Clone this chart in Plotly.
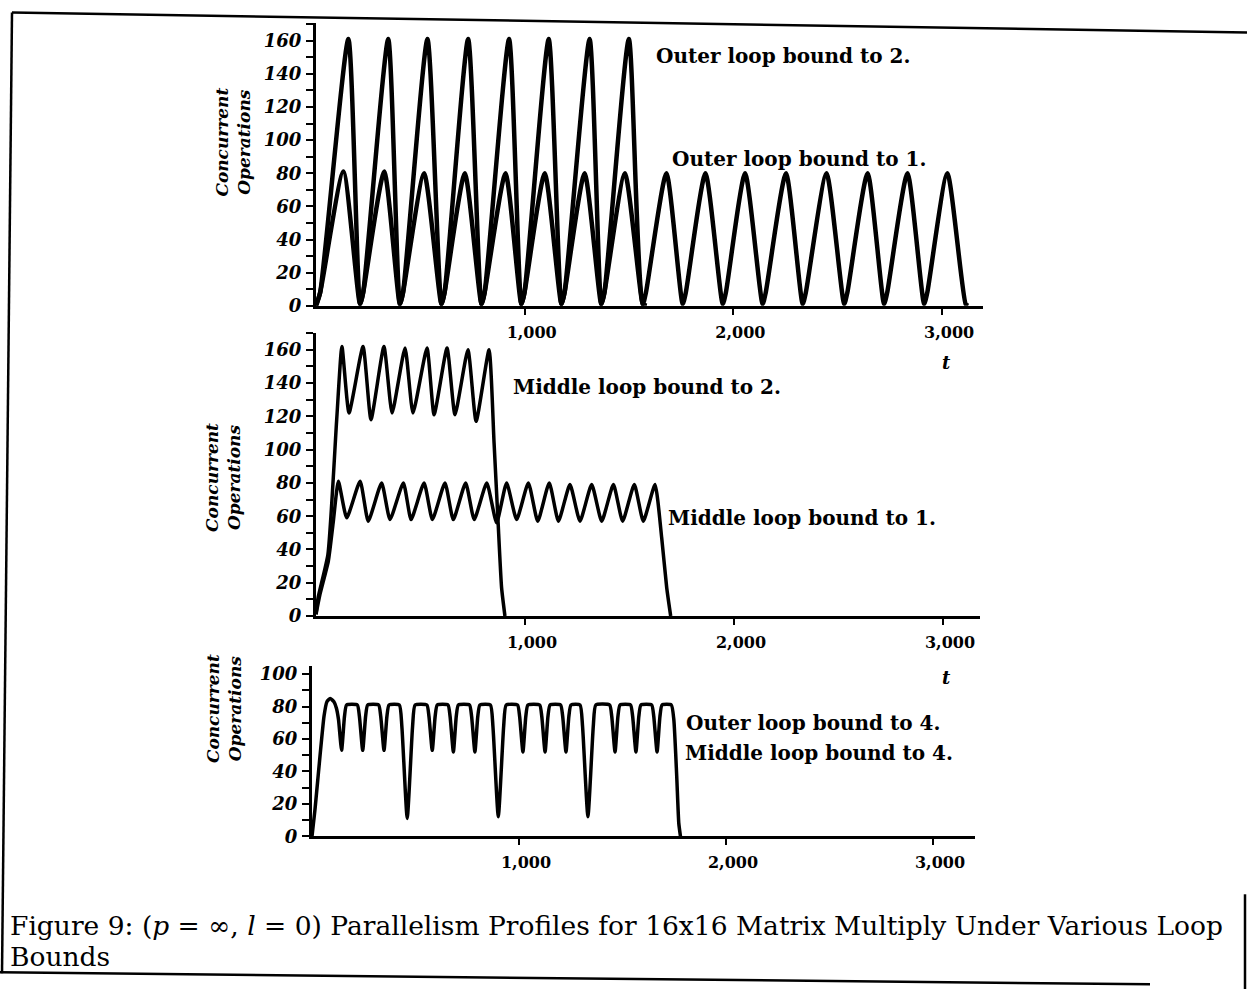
import plotly.graph_objects as go

W, H = 1247, 989

# ---------------- data ----------------
# Panel 1: Outer loop bound to 2 / bound to 1
t_outer2 = [0, 20, 155, 211, 226, 346, 402, 417, 534, 601, 616, 729, 793, 808, 925,
            984, 999, 1115, 1176, 1191, 1311, 1367, 1382, 1499, 1566, 1585]
y_outer2 = [0, 8, 161, 1, 8, 161, 1, 8, 161, 1, 8, 161, 1, 8, 161,
            1, 8, 161, 1, 8, 161, 1, 8, 161, 1, 0]

t_outer1 = [0, 20, 131, 211, 226, 327, 402, 417, 518, 601, 616, 713, 793, 808, 908,
            984, 999, 1096, 1176, 1191, 1287, 1367, 1382, 1480, 1566, 1581, 1679,
            1757, 1772, 1866, 1949, 1964, 2056, 2140, 2155, 2252, 2332, 2347, 2446,
            2531, 2546, 2643, 2722, 2737, 2834, 2914, 2929, 3025, 3113, 3125]
y_outer1 = [0, 8, 81, 1, 8, 81, 1, 8, 80, 1, 8, 80, 1, 8, 80,
            1, 8, 80, 1, 8, 80, 1, 8, 80, 1, 8, 80,
            1, 8, 80, 1, 8, 80, 1, 8, 80, 1, 8, 80,
            1, 8, 80, 1, 8, 80, 1, 8, 80, 1, 0]

# Panel 2: Middle loop bound to 2 / bound to 1
t_mid2 = [0, 10, 57, 99, 124, 158, 225, 263, 325, 364, 426, 464, 531, 565, 627, 665,
          727, 766, 828, 852, 871, 888, 904]
y_mid2 = [1, 11, 37, 118, 162, 122, 162, 118, 162, 122, 161, 122, 161, 121, 161, 121,
          160, 117, 160, 104, 57, 17, 0]

t_mid1 = [0, 19, 59, 83, 107, 147, 211, 250, 314, 354, 418, 455, 517, 557, 617, 657,
          716, 757, 817, 864, 912, 960, 1016, 1061, 1116, 1160, 1215, 1263, 1319,
          1367, 1423, 1467, 1523, 1566, 1622, 1654, 1678, 1697]
y_mid1 = [1, 13, 33, 57, 81, 59, 81, 57, 80, 58, 80, 58, 80, 58, 80, 58,
          80, 58, 80, 56, 80, 58, 80, 57, 80, 57, 79, 57, 79,
          57, 79, 57, 79, 57, 79, 47, 17, 0]

# Panel 3: Outer loop bound to 4, middle loop bound to 4
t_both4 = [0, 14, 58, 72, 88, 106, 118, 128, 143, 157, 167,
           219, 229, 245, 259, 269,
           322, 332, 348, 362, 372,
           422, 434, 460, 486, 498,
           555, 565, 581, 595, 605,
           657, 667, 683, 697, 707,
           761, 771, 787, 801, 811,
           862, 874, 900, 926, 938,
           993, 1003, 1019, 1033, 1043,
           1100, 1110, 1126, 1140, 1150,
           1201, 1211, 1227, 1241, 1251,
           1295, 1307, 1333, 1359, 1371,
           1438, 1448, 1464, 1478, 1488,
           1539, 1549, 1565, 1579, 1589,
           1641, 1651, 1667, 1681, 1691,
           1736, 1748, 1762, 1772, 1780]
y_both4 = [0, 16, 74, 83, 85, 83, 79, 72, 53, 74, 81,
           81, 74, 53, 74, 81,
           81, 74, 53, 74, 81,
           81, 68, 11, 68, 81,
           81, 74, 53, 74, 81,
           81, 74, 52, 74, 81,
           81, 74, 52, 74, 81,
           81, 68, 12, 68, 81,
           81, 74, 52, 74, 81,
           81, 74, 52, 74, 81,
           81, 74, 52, 74, 81,
           81, 68, 12, 68, 81,
           81, 74, 52, 74, 81,
           81, 74, 52, 74, 81,
           81, 74, 52, 74, 81,
           81, 72, 37, 8, 0]

x_tickvals = [1000, 2000, 3000]
x_ticktext = ["1,000", "2,000", "3,000"]
y_ticks_big = [0, 20, 40, 60, 80, 100, 120, 140, 160]
y_ticks_small = [0, 20, 40, 60, 80, 100]

# ---------------- helpers ----------------
Y_SCALE, Y_OFF = 0.987, 1.5   # empirical correction of the page's vertical placement


def fx(px):
    return px / W


def fy(py):
    return 1 - ((py - Y_OFF) / Y_SCALE) / H


SERIF = "DejaVu Serif"

fig = go.Figure()


def add(t, y, ax, ay, width, smooth):
    fig.add_trace(go.Scatter(x=t, y=y, mode="lines", xaxis=ax, yaxis=ay,
                             line=dict(color="black", width=width, shape="spline", smoothing=smooth)))


add(t_outer2, y_outer2, "x", "y", 4.5, 0.6)
add(t_outer1, y_outer1, "x", "y", 4.5, 0.6)
add(t_mid2, y_mid2, "x2", "y2", 3.5, 0.5)
add(t_mid1, y_mid1, "x2", "y2", 3.5, 0.5)
add(t_both4, y_both4, "x3", "y3", 3.5, 0.5)


def xax(dom, rng, anchor):
    return dict(domain=[fx(dom[0]), fx(dom[1])], range=rng, anchor=anchor,
                showline=True, linecolor="black", linewidth=3,
                ticks="outside", ticklen=6, tickwidth=2, tickcolor="black",
                tickvals=x_tickvals, ticktext=x_ticktext, ticklabelshift=7,
                ticklabelstandoff=4,
                tickfont=dict(family=SERIF, size=16, color="black", weight="bold"),
                showgrid=False, zeroline=False, fixedrange=True)


def yax(dom, rng, anchor, tv):
    return dict(domain=[fy(dom[1]), fy(dom[0])], range=rng, anchor=anchor,
                showline=True, linecolor="black", linewidth=3,
                ticks="outside", ticklen=7, tickwidth=2, tickcolor="black",
                tickvals=tv, ticklabelstandoff=1,
                tickfont=dict(family=SERIF, size=18, color="black", weight="bold", style="italic"),
                minor=dict(ticks="outside", ticklen=7, tickwidth=2, tickcolor="black", dtick=10, tick0=0),
                showgrid=False, zeroline=False, fixedrange=True)


fig.update_layout(
    width=W, height=H, margin=dict(l=0, r=0, t=0, b=0),
    paper_bgcolor="white", plot_bgcolor="white", showlegend=False,
    xaxis=xax((316, 983), [0, 3196], "y"),
    yaxis=yax((22, 305), [0, 171], "x", y_ticks_big),
    xaxis2=xax((316, 980), [0, 3177], "y2"),
    yaxis2=yax((332, 615), [0, 170.2], "x2", y_ticks_big),
    xaxis3=xax((312, 975), [0, 3203], "y3"),
    yaxis3=yax((665, 835), [0, 105], "x3", y_ticks_small),
)

ann = []
LBL = dict(family=SERIF, size=20, color="black", weight="bold")


def label(text, x, y):
    ann.append(dict(text=text, x=fx(x), y=fy(y), xref="paper", yref="paper",
                    xanchor="left", yanchor="middle", showarrow=False, font=LBL))


label("Outer loop bound to 2.", 654, 55)
label("Outer loop bound to 1.", 670, 158)
label("Middle loop bound to 2.", 511, 386)
label("Middle loop bound to 1.", 666, 517)
label("Outer loop bound to 4.", 684, 722)
label("Middle loop bound to 4.", 683, 752)

for (x, y) in [(233, 142), (223, 477), (224, 708)]:
    ann.append(dict(text="Concurrent<br>Operations", x=fx(x), y=fy(y), xref="paper", yref="paper",
                    xanchor="center", yanchor="middle", textangle=-90, showarrow=False,
                    font=dict(family=SERIF, size=17, color="black", weight="bold", style="italic")))

for (x, y) in [(947, 362), (947, 676)]:
    ann.append(dict(text="t", x=fx(x), y=fy(y), xref="paper", yref="paper",
                    xanchor="center", yanchor="middle", showarrow=False,
                    font=dict(family=SERIF, size=18, color="black", weight="bold", style="italic")))

CAP = dict(family=SERIF, size=26.5, color="black")
ann.append(dict(text="Figure 9: (<i>p</i> = ∞, <i>l</i> = 0) Parallelism Profiles for 16x16 Matrix Multiply Under Various Loop",
                x=fx(8), y=fy(924), xref="paper", yref="paper", xanchor="left", yanchor="middle",
                showarrow=False, font=CAP))
ann.append(dict(text="Bounds", x=fx(8), y=fy(955), xref="paper", yref="paper", xanchor="left",
                yanchor="middle", showarrow=False, font=CAP))
fig.update_layout(annotations=ann)

# frame lines of the scanned figure box
frame = [((12, 12), (1247, 32)), ((12, 12), (2, 972)), ((0, 971), (1150, 983)), ((1245, 893), (1245, 989))]
fig.update_layout(shapes=[dict(type="line", xref="paper", yref="paper",
                               x0=fx(a[0]), y0=fy(a[1]), x1=fx(b[0]), y1=fy(b[1]),
                               line=dict(color="black", width=2.5)) for a, b in frame])

fig.write_html("out.html", config={"displayModeBar": False},
               post_script="document.body.style.margin='0';document.body.style.overflow='hidden';")
